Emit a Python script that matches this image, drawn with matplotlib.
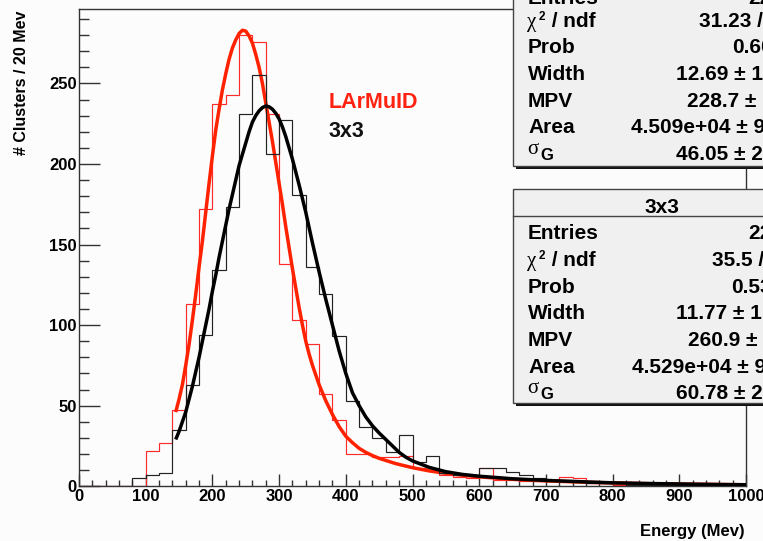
import matplotlib
matplotlib.use("Agg")
import matplotlib.pyplot as plt
from matplotlib.patches import Rectangle
from matplotlib.lines import Line2D
import numpy as np

plt.rcParams['font.family'] = ['Liberation Sans', 'DejaVu Sans']
plt.rcParams['font.weight'] = 'bold'

# ---------------- data ----------------
bin_edges = list(range(0, 1001, 20))
larmuid_counts = [0, 0, 0, 0, 0, 22, 27, 47, 113, 172,
                  237, 243, 280, 276, 231, 138, 103, 88, 57, 41,
                  20, 20, 18, 18, 19, 11, 10, 7, 6, 5,
                  11, 4, 4, 3, 3, 3, 6, 5, 2, 2,
                  1, 1, 1, 1, 1, 1, 1, 0, 1, 0]
cl3x3_counts = [0, 0, 0, 0, 5, 7, 8, 35, 63, 94,
                134, 173, 231, 255, 206, 227, 181, 136, 119, 93,
                53, 37, 30, 21, 32, 15, 19, 8, 7, 7,
                11, 11, 9, 7, 5, 4, 4, 3, 2, 2,
                2, 1, 1, 1, 1, 1, 1, 1, 1, 1]

larmuid_fit_energy = [145, 150, 155, 160, 165, 170, 175, 180, 185, 190, 195,
                      200, 205, 210, 215, 220, 225, 230, 235, 240, 245, 250,
                      255, 260, 265, 270, 275, 280, 285, 290, 295, 300, 305,
                      310, 315, 320, 325, 330, 335, 340, 345, 350, 355, 360,
                      370, 380, 390, 400, 410, 420, 430, 440, 450, 475, 500,
                      525, 550, 575, 600, 650, 700, 750, 800, 850, 900, 950,
                      1000]
larmuid_fit = [46, 54, 63, 75, 88, 103, 119, 136, 152, 170, 188,
               205, 221, 234, 246, 256, 265, 272, 277, 281, 283, 282.5,
               279.5, 275, 268, 260, 250, 238, 226, 214, 201, 188, 175,
               161, 148, 135, 123, 111, 100, 90, 82, 75, 69, 63,
               53, 44.5, 37, 31, 27, 23.5, 21, 19, 17.3, 14, 11.5,
               9.5, 8, 6.8, 5.8, 4.3, 3.3, 2.6, 2.0, 1.6, 1.3, 1.1,
               0.9]

cl3x3_fit_energy = [145, 150, 155, 160, 165, 170, 175, 180, 185, 190, 195,
                    200, 205, 210, 215, 220, 225, 230, 235, 240, 245, 250,
                    255, 260, 265, 270, 275, 280, 285, 290, 295, 300, 305,
                    310, 315, 320, 325, 330, 335, 340, 345, 350, 355, 360,
                    365, 370, 375, 380, 385, 390, 395, 400, 410, 420, 430,
                    440, 450, 460, 470, 480, 490, 500, 525, 550, 575, 600,
                    650, 700, 750, 800, 850, 900, 950, 1000]
cl3x3_fit = [29, 34, 40, 46, 54, 62, 71, 80, 90, 100, 110,
             121, 131, 142, 152, 162, 172, 181, 190, 199, 206, 213,
             220, 226, 230, 233, 235, 236, 235.5, 234, 231.5, 228, 223,
             217, 210, 203, 195, 187, 178.5, 170, 160.5, 151, 142, 133,
             124.5, 116, 108, 100, 92, 84, 77, 70, 58, 50, 43,
             37.5, 33, 29, 25, 21, 18, 15.7, 11.7, 9, 7.3, 6.2,
             4.6, 3.6, 2.8, 2.1, 1.7, 1.4, 1.1, 0.9]

stat_labels = ["Entries", "χ2 / ndf", "Prob", "Width", "MPV", "Area", "σG"]
larmuid_stats = ["2254", "31.23 / 29", "0.6003", "12.69 ± 1.50", "228.7 ± 1.5",
                 "4.509e+04 ± 953", "46.05 ± 2.30"]
cl3x3_stats = ["2264", "35.5 / 37", "0.5341", "11.77 ± 1.38", "260.9 ± 1.7",
               "4.529e+04 ± 954", "60.78 ± 2.40"]

# ---------------- figure ----------------
W, H = 763, 541
BG = '#fcfcfc'
fig = plt.figure(figsize=(W / 100, H / 100), dpi=100, facecolor=BG)


def fx(x):
    return x / W


def fy(y):
    return 1 - y / H


ax_l, ax_r, ax_t, ax_b = 79, 746, 9, 486.2
ax = fig.add_axes([fx(ax_l), fy(ax_b), (ax_r - ax_l) / W, (ax_b - ax_t) / H])
ax.set_facecolor(BG)

ax.stairs(larmuid_counts, bin_edges, color='#ff2a2a', lw=0.85, baseline=0, zorder=2)
ax.plot(larmuid_fit_energy, larmuid_fit, color='#ff2200', lw=2.5, zorder=3,
        solid_capstyle='butt', solid_joinstyle='round')
ax.stairs(cl3x3_counts, bin_edges, color='#222222', lw=0.85, baseline=0, zorder=4)
ax.plot(cl3x3_fit_energy, cl3x3_fit, color='#000000', lw=2.5, zorder=5,
        solid_capstyle='butt', solid_joinstyle='round')

ax.set_xlim(0, 1000)
ax.set_ylim(0, 296.2)
ax.set_xticks(np.arange(0, 1001, 100))
ax.set_xticks(np.arange(0, 1001, 20), minor=True)
ax.set_yticks(np.arange(0, 251, 50))
ax.set_yticks(np.arange(0, 291, 10), minor=True)
ax.tick_params(axis='x', which='major', direction='in', length=9, width=1.0,
               pad=2, labelsize=12, color='#333333')
ax.tick_params(axis='x', which='minor', direction='in', length=4.5, width=1.0,
               color='#333333')
ax.tick_params(axis='y', which='major', direction='in', length=15, width=1.0,
               pad=1.5, labelsize=12, color='#333333')
ax.tick_params(axis='y', which='minor', direction='in', length=7.5, width=1.0,
               color='#333333')
for lab in ax.get_xticklabels() + ax.get_yticklabels():
    lab.set_fontweight('bold')
for sp in ax.spines.values():
    sp.set_color('#333333')
    sp.set_linewidth(1.0)

# axis titles
fig.text(fx(21.5), fy(10.4), "# Clusters / 20 Mev", rotation=90, ha='center',
         va='top', fontsize=11.5, fontweight='bold')
fig.text(fx(745), fy(536), "Energy (Mev)", ha='right', va='baseline',
         fontsize=12, fontweight='bold')

# legend-like labels
fig.text(fx(328.3), fy(108.3), "LArMuID", color='#ff2211', ha='left',
         va='baseline', fontsize=15.5, fontweight='bold')
fig.text(fx(328.3), fy(137.3), "3x3", color='#111111', ha='left',
         va='baseline', fontsize=15.5, fontweight='bold')


# ---------------- stat boxes ----------------
def stat_box(left, top, bottom, baselines, values, value_x, title=None,
             title_sep=None, title_baseline=None):
    right = 830
    sh = 3
    fig.add_artist(Rectangle((fx(left + sh), fy(bottom + sh)),
                             (right - left) / W, (bottom - top) / H,
                             transform=fig.transFigure, facecolor='#111111',
                             edgecolor='none', zorder=10))
    fig.add_artist(Rectangle((fx(left), fy(bottom)),
                             (right - left) / W, (bottom - top) / H,
                             transform=fig.transFigure, facecolor='#f0f0f0',
                             edgecolor='#444444', lw=1.0, zorder=11))
    if title is not None:
        fig.add_artist(Line2D([fx(left), fx(right)], [fy(title_sep), fy(title_sep)],
                              transform=fig.transFigure, color='#444444', lw=1.0,
                              zorder=12))
        fig.text(fx(662), fy(title_baseline), title, ha='center', va='baseline',
                 fontsize=15, fontweight='bold', zorder=13)
    for lab, val, vx, yb in zip(stat_labels, values, value_x, baselines):
        if lab.startswith("χ"):
            fig.text(fx(527), fy(yb), "χ", ha='left', va='baseline',
                     fontsize=15, fontweight='normal',
                     family=['Liberation Serif', 'DejaVu Serif'], zorder=13)
            fig.text(fx(538.5), fy(yb - 6.7), "2", ha='left', va='baseline',
                     fontsize=8.5, fontweight='bold', zorder=13)
            fig.text(fx(545.5), fy(yb), " / ndf", ha='left', va='baseline',
                     fontsize=15, fontweight='bold', zorder=13)
        elif lab.startswith("σ"):
            fig.text(fx(527.5), fy(yb - 6.5), "σ", ha='left', va='baseline',
                     fontsize=15, fontweight='normal',
                     family=['Liberation Serif', 'DejaVu Serif'], zorder=13)
            fig.text(fx(540), fy(yb - 0.5), "G", ha='left', va='baseline',
                     fontsize=12, fontweight='bold', zorder=13)
        else:
            fig.text(fx(528), fy(yb), lab, ha='left', va='baseline',
                     fontsize=15, fontweight='bold', zorder=13)
        fig.text(fx(vx), fy(yb), val, ha='left', va='baseline',
                 fontsize=15, fontweight='bold', zorder=13)


step = 26.67
stat_box(512.7, -120, 165.7,
         [3.5] + [26.7 + i * step for i in range(6)],
         larmuid_stats,
         [748.3, 699, 731.7, 675.7, 687, 631, 675.7])
stat_box(513.3, 189.3, 402.7,
         [239.3 + i * step for i in range(7)],
         cl3x3_stats,
         [748.3, 712.3, 730.7, 675.7, 687.7, 632.3, 675.7],
         title="3x3", title_sep=216, title_baseline=212.7)

fig.savefig("out.png", dpi=100, facecolor=BG)
